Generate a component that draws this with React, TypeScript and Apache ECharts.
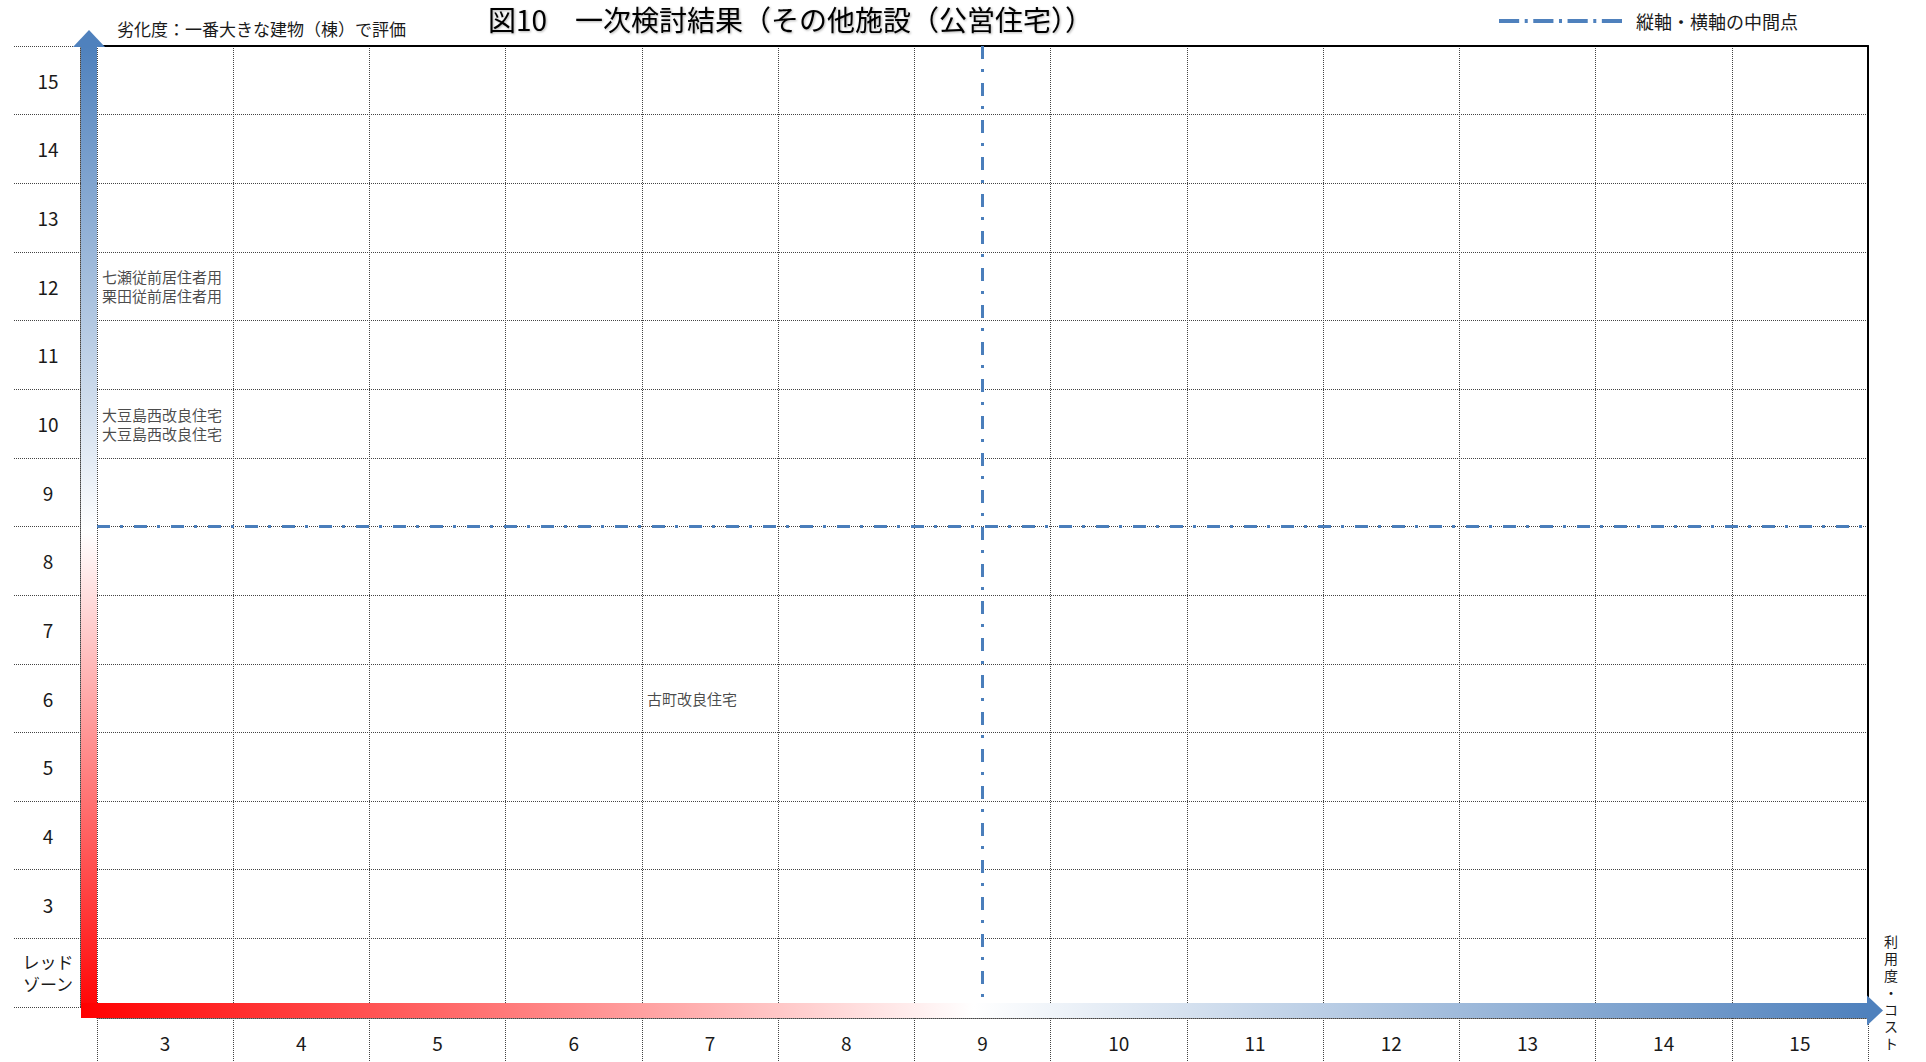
import React, { useEffect, useRef } from 'react';
import * as echarts from 'echarts';

// ---------- data ----------
const xCategories = ['3', '4', '5', '6', '7', '8', '9', '10', '11', '12', '13', '14', '15'];
const yCategories = ['レッド\nゾーン', '3', '4', '5', '6', '7', '8', '9', '10', '11', '12', '13', '14', '15'];
const yScores = [2, 3, 4, 5, 6, 7, 8, 9, 10, 11, 12, 13, 14, 15];
const facilityNames = ['七瀬従前居住者用', '栗田従前居住者用', '大豆島西改良住宅', '大豆島西改良住宅', '古町改良住宅'];
const usageScores = [3, 3, 3, 3, 7];
const deteriorationScores = [12, 12, 10, 10, 6];
const titleText = '図10　一次検討結果（その他施設（公営住宅））';
const yAxisTitle = '劣化度：一番大きな建物（棟）で評価';
const xAxisTitle = '利用度・コスト';
const midLegend = '縦軸・横軸の中間点';

// ---------- layout ----------
const W = 1926;
const H = 1062;
const GRID_L = 97;
const GRID_R = 58;
const GRID_T = 46;
const GRID_B = 55;
const FONT = "'Noto Sans CJK JP', 'Noto Sans', sans-serif";
const BLUE = '#4f81bd';
const TEXT = '#1a1a1a';

// legend sample: dash-dot pattern drawn as filled segments
function dashDotIconPath(): string {
  const dash = 20;
  const gap = 5.5;
  const dot = 3;
  const h = 4;
  let x = 0;
  let d = '';
  for (let i = 0; i < 4; i++) {
    d += `M${x},0 h${dash} v${h} h-${dash} Z `;
    x += dash + gap;
    if (i < 3) {
      d += `M${x},0 h${dot} v${h} h-${dot} Z `;
      x += dot + gap;
    }
  }
  return 'path://' + d.trim();
}

export default function App() {
  const ref = useRef<HTMLDivElement>(null);

  useEffect(() => {
    if (!ref.current) return;
    const chart = echarts.init(ref.current, undefined, { renderer: 'svg' });

    const xNums = xCategories.map(Number);
    const xMin = Math.min(...xNums);
    const xMax = Math.max(...xNums);
    const yMin = Math.min(...yScores);
    const yMax = Math.max(...yScores);
    const midX = (xMin + xMax) / 2;
    const midY = (yMin + yMax) / 2;

    // group names sharing the same cell
    const groups: Record<string, { x: number; y: number; names: string[] }> = {};
    facilityNames.forEach((n, i) => {
      const k = usageScores[i] + '_' + deteriorationScores[i];
      if (!groups[k]) groups[k] = { x: usageScores[i], y: deteriorationScores[i], names: [] };
      groups[k].names.push(n);
    });
    const scatterData = Object.values(groups).map((g) => [g.x, g.y, g.names.join('\n')]);

    const gridW = W - GRID_L - GRID_R;
    const gridH = H - GRID_T - GRID_B;
    const cellW = gridW / xCategories.length;
    const cellH = gridH / yCategories.length;
    const gridBottomY = H - GRID_B;
    const gridRightX = W - GRID_R;

    const dotted = { color: '#444444', width: 1, type: [1, 1] as any };
    const solidBlack = { color: '#000', width: 2 };

    const shaftW = 16;
    const xShaftH = 15;
    const headLen = 16;
    const headW = 32;
    const vShaftX = GRID_L - shaftW;
    const hShaftY = gridBottomY - 4;
    const shaftBottom = hShaftY + xShaftH;
    const gradStops = [
      { offset: 0, color: '#ff0000' },
      { offset: 0.5, color: '#ffffff' },
      { offset: 1, color: BLUE },
    ];

    const option: any = {
      animation: false,
      backgroundColor: '#ffffff',
      textStyle: { fontFamily: FONT },
      title: {
        text: titleText,
        left: 483,
        top: 0,
        textStyle: {
          fontFamily: FONT,
          fontSize: 28,
          fontWeight: 'normal',
          color: '#000',
          textShadowColor: 'rgba(0,0,0,0.3)',
          textShadowBlur: 2,
          textShadowOffsetX: 1,
          textShadowOffsetY: 1,
        },
      },
      legend: {
        data: [{ name: midLegend, icon: dashDotIconPath() }],
        left: 1494,
        top: 7,
        itemWidth: 123,
        itemHeight: 14,
        textStyle: { fontFamily: FONT, fontSize: 18, color: TEXT, padding: [0, 0, 0, 9] },
        selectedMode: false,
      },
      grid: {
        left: GRID_L,
        right: GRID_R,
        top: GRID_T,
        bottom: GRID_B,
        containLabel: false,
        outerBoundsMode: 'none',
      },
      xAxis: [
        {
          type: 'category',
          position: 'bottom',
          offset: 11,
          data: xCategories,
          boundaryGap: true,
          axisLine: { show: true, lineStyle: dotted },
          axisTick: { show: true, length: 44, interval: 0, lineStyle: dotted },
          axisLabel: { interval: 0, fontSize: 19, margin: 15, color: TEXT, fontFamily: FONT },
          splitLine: { show: true, interval: 0, lineStyle: dotted },
        },
        {
          type: 'category',
          position: 'top',
          data: xCategories,
          axisLine: { show: true, lineStyle: solidBlack },
          axisTick: { show: false },
          axisLabel: { show: false },
          splitLine: { show: false },
        },
        {
          type: 'value',
          position: 'bottom',
          show: false,
          min: xMin - 0.5,
          max: xMax + 0.5,
        },
      ],
      yAxis: [
        {
          type: 'category',
          position: 'left',
          data: yCategories.map((c) =>
            c.indexOf('\n') >= 0
              ? { value: c, textStyle: { fontSize: 17, lineHeight: 22, align: 'center', color: TEXT } }
              : c
          ),
          boundaryGap: true,
          axisLine: { show: false },
          axisTick: { show: true, length: 83, interval: 0, lineStyle: dotted },
          axisLabel: { interval: 0, fontSize: 19, color: TEXT, align: 'center', margin: 49, fontFamily: FONT },
          splitLine: { show: true, interval: 0, lineStyle: dotted },
          name: yAxisTitle,
          nameLocation: 'end',
          nameGap: 18,
          nameTextStyle: {
            fontFamily: FONT,
            fontSize: 17,
            color: TEXT,
            align: 'left',
            verticalAlign: 'middle',
            padding: [0, 0, 0, 20],
          },
        },
        {
          type: 'category',
          position: 'left',
          offset: 17,
          data: yCategories,
          axisLine: { show: true, lineStyle: dotted },
          axisTick: { show: false },
          axisLabel: { show: false },
          splitLine: { show: false },
        },
        {
          type: 'category',
          position: 'right',
          data: yCategories,
          axisLine: { show: true, lineStyle: solidBlack },
          axisTick: { show: false },
          axisLabel: { show: false },
          splitLine: { show: false },
        },
        {
          type: 'value',
          position: 'left',
          show: false,
          min: yMin - 0.5,
          max: yMax + 0.5,
        },
      ],
      series: [
        {
          type: 'scatter',
          name: 'facilities',
          xAxisIndex: 2,
          yAxisIndex: 3,
          data: scatterData,
          symbol: 'rect',
          symbolSize: [cellW, cellH],
          itemStyle: { color: 'rgba(0,0,0,0)' },
          silent: true,
          z: 5,
          label: {
            show: true,
            position: 'insideLeft',
            distance: 5,
            formatter: (p: any) => p.data[2],
            fontFamily: FONT,
            fontSize: 15,
            lineHeight: 19,
            color: TEXT,
          },
        },
        {
          type: 'line',
          name: midLegend,
          xAxisIndex: 2,
          yAxisIndex: 3,
          data: [],
          symbol: 'none',
          itemStyle: { color: BLUE },
          lineStyle: { color: BLUE, width: 4 },
          z: 6,
          markLine: {
            silent: true,
            symbol: ['none', 'none'],
            label: { show: false },
            lineStyle: { color: '#4a7ebb', width: 3, type: [13, 10, 3, 11] },
            emphasis: { disabled: true },
            data: [
              [{ coord: [midX, yMax + 0.5] }, { coord: [midX, yMin - 0.5] }],
              [{ coord: [xMin - 0.5, midY] }, { coord: [xMax + 0.5, midY] }],
            ],
          },
        },
      ],
      graphic: [
        {
          type: 'rect',
          z: 100,
          shape: { x: vShaftX, y: GRID_T + 1, width: shaftW, height: shaftBottom - (GRID_T + 1) },
          style: { fill: new echarts.graphic.LinearGradient(0, 1, 0, 0, gradStops) },
          silent: true,
        },
        {
          type: 'polygon',
          z: 100,
          shape: {
            points: [
              [vShaftX + shaftW / 2 - headW / 2, GRID_T + 1],
              [vShaftX + shaftW / 2 + headW / 2, GRID_T + 1],
              [vShaftX + shaftW / 2, GRID_T + 1 - headLen - 1],
            ],
          },
          style: { fill: BLUE },
          silent: true,
        },
        {
          type: 'rect',
          z: 100,
          shape: { x: vShaftX, y: hShaftY, width: gridRightX - 1 - vShaftX, height: xShaftH },
          style: { fill: new echarts.graphic.LinearGradient(0, 0, 1, 0, gradStops) },
          silent: true,
        },
        {
          type: 'polygon',
          z: 100,
          shape: {
            points: [
              [gridRightX - 1, hShaftY + xShaftH / 2 - 15],
              [gridRightX - 1, hShaftY + xShaftH / 2 + 15],
              [gridRightX - 1 + headLen, hShaftY + xShaftH / 2],
            ],
          },
          style: { fill: BLUE },
          silent: true,
        },
        {
          type: 'text',
          z: 101,
          x: gridRightX + 23,
          y: gridBottomY - 15,
          silent: true,
          style: {
            text: xAxisTitle.split('').join('\n'),
            fontFamily: FONT,
            fontSize: 14,
            lineHeight: 17,
            fill: TEXT,
            align: 'center',
            verticalAlign: 'middle',
          },
        },
      ],
    };

    chart.setOption(option);
    return () => chart.dispose();
  }, []);

  return (
    <div
      ref={ref}
      style={{ position: 'fixed', left: 0, top: 0, width: W, height: H, background: '#fff' }}
    />
  );
}
